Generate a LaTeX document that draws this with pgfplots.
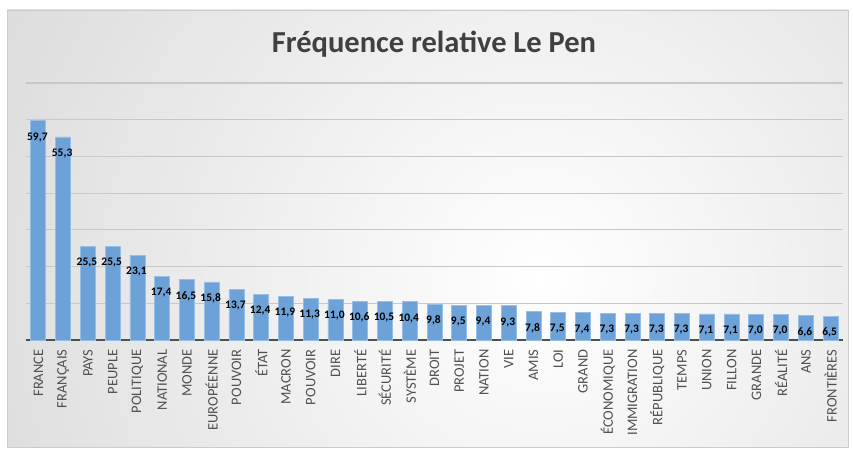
\documentclass[border=0pt]{standalone}
\usepackage{fontspec}
\setmainfont{Carlito}
\usepackage{pgfplots}
\pgfplotsset{compat=1.18}
\usepackage{pgfplotstable}

\definecolor{barblue}{RGB}{108,162,216}
\definecolor{baredge}{RGB}{150,190,230}
\definecolor{titlegray}{RGB}{64,64,64}
\definecolor{labelgray}{RGB}{80,80,80}
\definecolor{gridgray}{RGB}{200,200,200}
\definecolor{axisgray}{RGB}{80,80,80}

% relative frequency of words, Le Pen
\pgfplotstableread{
x y
0 59.7
1 55.3
2 25.5
3 25.5
4 23.1
5 17.4
6 16.5
7 15.8
8 13.7
9 12.4
10 11.9
11 11.3
12 11.0
13 10.6
14 10.5
15 10.4
16 9.8
17 9.5
18 9.4
19 9.3
20 7.8
21 7.5
22 7.4
23 7.3
24 7.3
25 7.3
26 7.3
27 7.1
28 7.1
29 7.0
30 7.0
31 6.6
32 6.5
}\lepen

\begin{document}
\begin{tikzpicture}
\useasboundingbox (0pt,0pt) rectangle (853pt,450pt);
\fill[white] (0pt,0pt) rectangle (853pt,450pt);
\begin{scope}
  \clip (7pt,3pt) rectangle (848pt,440pt);
  \shade[inner color=white, outer color=gray!50] (540pt,170pt) circle (1100pt);
\end{scope}
\draw[gray!40] (7pt,3pt) rectangle (848pt,440pt);

\node[anchor=base, font=\fontsize{30.5}{34}\selectfont\bfseries, text=titlegray]
  at (434pt,397pt) {Fréquence relative Le Pen};

\begin{axis}[
    at={(26pt,110pt)}, anchor=south west,
    scale only axis,
    width=817pt, height=257pt,
    xmin=-0.5, xmax=32.5,
    ymin=0, ymax=70,
    ytick={10,20,...,70},
    yticklabels={},
    ymajorgrids,
    grid style={gridgray, line width=1.2pt},
    axis x line*=bottom,
    axis y line*=left,
    y axis line style={draw=none},
    x axis line style={axisgray, line width=1.8pt},
    major tick length=0pt,
    xtick=data,
    xticklabels={FRANCE,FRANÇAIS,PAYS,PEUPLE,POLITIQUE,NATIONAL,MONDE,EUROPÉENNE,POUVOIR,ÉTAT,MACRON,POUVOIR,DIRE,LIBERTÉ,SÉCURITÉ,SYSTÈME,DROIT,PROJET,NATION,VIE,AMIS,LOI,GRAND,ÉCONOMIQUE,IMMIGRATION,RÉPUBLIQUE,TEMPS,UNION,FILLON,GRANDE,RÉALITÉ,ANS,FRONTIÈRES},
    xticklabel style={rotate=90, anchor=east, xshift=-6pt,
        font=\fontsize{14.5}{16}\selectfont, text=labelgray},
    ybar, bar width=15pt,
    nodes near coords={\pgfmathprintnumber[fixed,fixed zerofill,precision=1,use comma,assume math mode=true]{\pgfplotspointmeta}},
    every node near coord/.append style={anchor=north, yshift=-8pt, xshift=-1pt,
        font=\fontsize{11.5}{13}\selectfont\bfseries, text=black},
]
\addplot[fill=barblue, draw=baredge, line width=0.8pt] table[x=x, y=y] {\lepen};
\end{axis}
\end{tikzpicture}
\end{document}
